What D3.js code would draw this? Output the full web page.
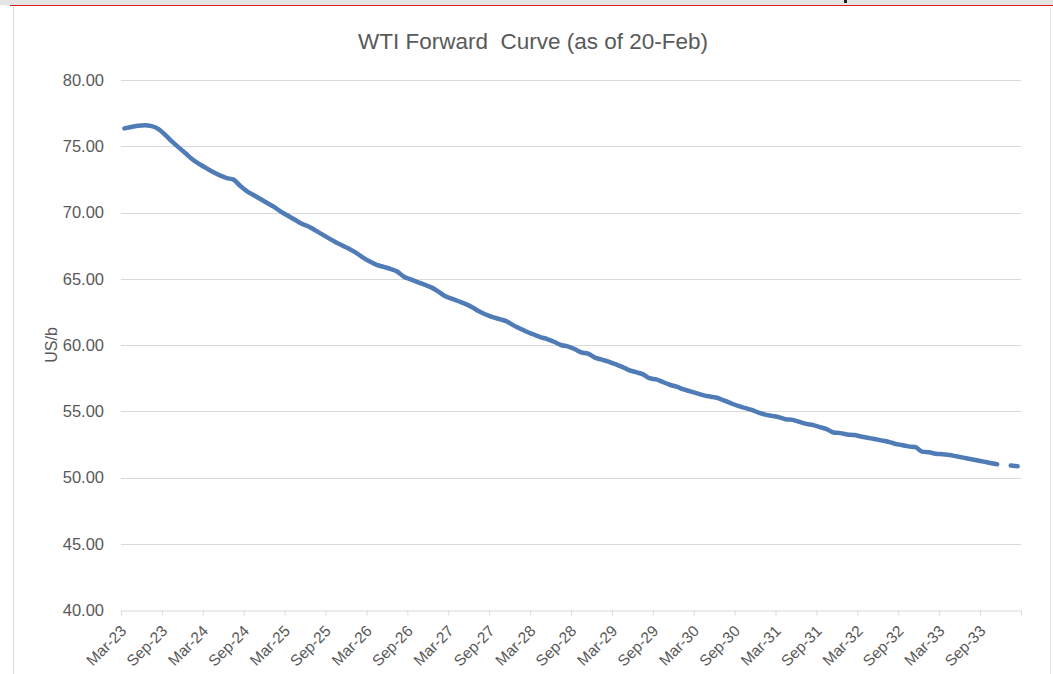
<!DOCTYPE html>
<html>
<head>
<meta charset="utf-8">
<script src="https://cdn.jsdelivr.net/npm/d3@7"></script>
<style>
  html, body { margin: 0; padding: 0; background: #ffffff; }
  svg { display: block; }
</style>
</head>
<body>
<svg id="chart" width="1053" height="674"></svg>
<script>
// ---- data ----
const monthNames = ["Jan","Feb","Mar","Apr","May","Jun","Jul","Aug","Sep","Oct","Nov","Dec"];
const years = ["23","24","25","26","27","28","29","30","31","32","33","34"];
// categories: Mar-23 .. Feb-34 (monthly)
const categories = [];
years.forEach((yy, yi) => {
  monthNames.forEach((m, mi) => {
    if (yi === 0 && mi < 2) return;
    if (yi === years.length - 1 && mi > 1) return;
    categories.push(m + "-" + yy);
  });
});

const values2023 = [76.35, 76.45, 76.55, 76.58, 76.52, 76.30, 75.85, 75.35, 74.90, 74.45];
const values2024 = [74.00, 73.65, 73.35, 73.05, 72.80, 72.60, 72.48, 72.00, 71.60, 71.30, 71.00, 70.70];
const values2025 = [70.40, 70.05, 69.75, 69.45, 69.15, 68.95, 68.65, 68.35, 68.05, 67.75, 67.50, 67.25];
const values2026 = [66.95, 66.60, 66.30, 66.05, 65.90, 65.75, 65.55, 65.15, 64.95, 64.75, 64.55, 64.35];
const values2027 = [64.05, 63.70, 63.50, 63.30, 63.10, 62.85, 62.55, 62.30, 62.10, 61.95, 61.80, 61.50];
const values2028 = [61.25, 61.00, 60.80, 60.60, 60.45, 60.25, 60.00, 59.90, 59.70, 59.45, 59.35, 59.05];
const values2029 = [58.90, 58.75, 58.55, 58.35, 58.10, 57.95, 57.80, 57.50, 57.40, 57.20, 57.00, 56.85];
const values2030 = [56.65, 56.50, 56.35, 56.20, 56.10, 56.00, 55.80, 55.60, 55.40, 55.25, 55.10, 54.90];
const values2031 = [54.75, 54.65, 54.55, 54.40, 54.35, 54.20, 54.05, 53.95, 53.80, 53.65, 53.40, 53.35];
const values2032 = [53.25, 53.20, 53.10, 53.00, 52.90, 52.80, 52.70, 52.55, 52.45, 52.35, 52.30, 51.95];
const values2033 = [51.90, 51.80, 51.75, 51.70, 51.60, 51.50, 51.40, 51.30, 51.20, 51.10, 51.00, null];
const values2034 = [50.90, 50.85];
const values = [].concat(values2023, values2024, values2025, values2026, values2027, values2028,
                         values2029, values2030, values2031, values2032, values2033, values2034);

const yTicks = [40, 45, 50, 55, 60, 65, 70, 75, 80];
const xTickLabels = ["Mar-23","Sep-23","Mar-24","Sep-24","Mar-25","Sep-25","Mar-26","Sep-26",
                     "Mar-27","Sep-27","Mar-28","Sep-28","Mar-29","Sep-29","Mar-30","Sep-30",
                     "Mar-31","Sep-31","Mar-32","Sep-32","Mar-33","Sep-33"];
const titleText = "WTI Forward  Curve (as of 20-Feb)";
const yTitle = "US/b";

// ---- layout ----
const svg = d3.select("#chart");
const W = 1053, H = 674;
const plot = { left: 121, right: 1021, top: 80, bottom: 610 };
const font = "'Liberation Sans', Arial, sans-serif";
const textColor = "#595959";
const gridColor = "#d9d9d9";

// frame decorations
svg.append("rect").attr("x", 0).attr("y", 0).attr("width", W).attr("height", 5).attr("fill", "#e4e4e4");
svg.append("line").attr("x1", 10).attr("x2", W).attr("y1", 5.5).attr("y2", 5.5)
  .attr("stroke", "#e31b1b").attr("stroke-width", 1.2);
svg.append("rect").attr("x", 844).attr("y", 0).attr("width", 3).attr("height", 3).attr("fill", "#222");
svg.append("line").attr("x1", 13.5).attr("x2", 13.5).attr("y1", 7).attr("y2", H)
  .attr("stroke", "#d9d9d9").attr("stroke-width", 1);
svg.append("line").attr("x1", 1050.5).attr("x2", 1050.5).attr("y1", 7).attr("y2", H)
  .attr("stroke", "#e6e6e6").attr("stroke-width", 1);

// scales
const x = d3.scaleBand().domain(categories).range([plot.left, plot.right]).paddingInner(0).paddingOuter(0);
const bw = x.bandwidth();
const y = d3.scaleLinear().domain([40, 80]).range([plot.bottom, plot.top]);

// gridlines
svg.append("g").selectAll("line").data(yTicks.filter(d => d > 40)).join("line")
  .attr("x1", plot.left).attr("x2", plot.right)
  .attr("y1", d => Math.round(y(d)) + 0.5).attr("y2", d => Math.round(y(d)) + 0.5)
  .attr("stroke", gridColor).attr("stroke-width", 1);

// y axis labels
const yAxis = d3.axisLeft(y).tickValues(yTicks).tickFormat(d => d.toFixed(2)).tickSize(0).tickPadding(0);
const gy = svg.append("g").attr("transform", `translate(${plot.left - 17},0)`).call(yAxis);
gy.select(".domain").remove();
gy.selectAll("text").attr("font-family", font).attr("font-size", "16.5px").attr("fill", textColor);

// x axis line and ticks
const tickPositions = categories.filter((c, i) => i % 6 === 0).map(c => x(c)).concat([plot.right]);
const xAxisScale = d3.scaleLinear().domain([plot.left, plot.right]).range([plot.left, plot.right]);
const xAxis = d3.axisBottom(xAxisScale).tickValues(tickPositions).tickFormat("").tickSizeInner(5).tickSizeOuter(0);
const gx = svg.append("g").attr("transform", `translate(0,${Math.round(y(40)) + 0.5})`).call(xAxis);
gx.select(".domain").attr("stroke", gridColor);
gx.selectAll(".tick line").attr("stroke", gridColor);

// x labels
svg.append("g").selectAll("text").data(xTickLabels).join("text")
  .attr("transform", d => `translate(${x(d) + bw / 2 + 3},${plot.bottom + 22}) rotate(-45)`)
  .attr("text-anchor", "end")
  .attr("font-family", font).attr("font-size", "15.5px").attr("fill", textColor)
  .text(d => d);

// line
const series = categories.map((c, i) => ({ c, v: values[i] }));
const line = d3.line()
  .defined(d => d.v !== null)
  .x(d => x(d.c) + bw / 2)
  .y(d => y(d.v))
  .curve(d3.curveMonotoneX);
svg.append("path").datum(series)
  .attr("d", line)
  .attr("fill", "none")
  .attr("stroke", "#4f7cb6")
  .attr("stroke-width", 4.5)
  .attr("stroke-linecap", "round")
  .attr("stroke-linejoin", "round");

// title
svg.append("text").attr("x", 533).attr("y", 49).attr("text-anchor", "middle")
  .attr("font-family", font).attr("font-size", "22.5px").attr("fill", textColor)
  .style("white-space", "pre")
  .text(titleText);

// y title
svg.append("text")
  .attr("transform", `translate(57,345) rotate(-90)`)
  .attr("text-anchor", "middle")
  .attr("font-family", font).attr("font-size", "16px").attr("fill", textColor)
  .text(yTitle);
</script>
</body>
</html>
